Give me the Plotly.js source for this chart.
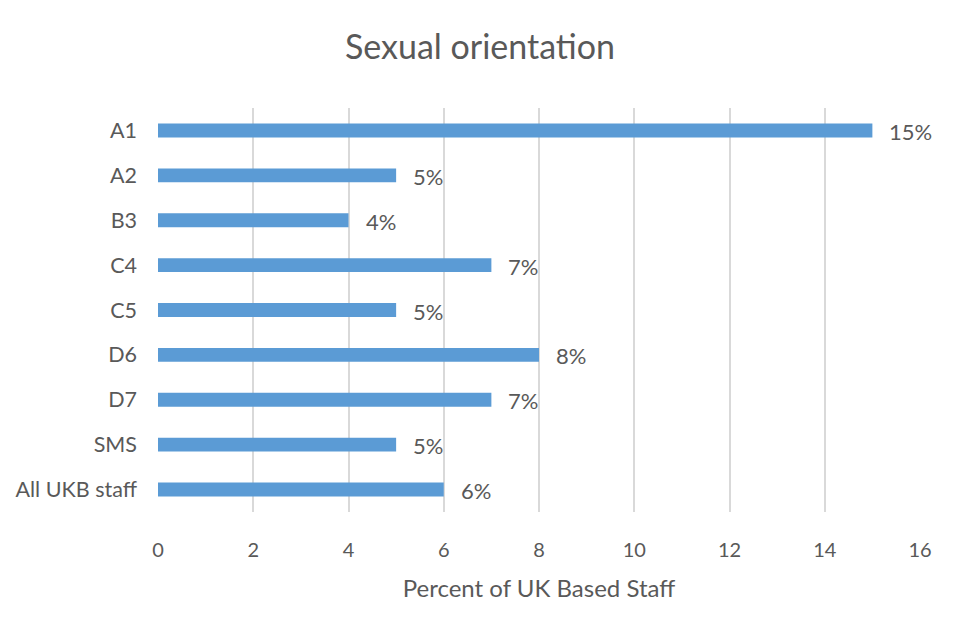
<!DOCTYPE html>
<html>
<head>
<meta charset="utf-8">
<script src="https://cdn.plot.ly/plotly-3.0.1.min.js"></script>
<style>html,body{margin:0;padding:0;background:#fff;}#chart{width:960px;height:640px;}</style>
</head>
<body>
<div id="chart"></div>
<script>
const categories = ["A1", "A2", "B3", "C4", "C5", "D6", "D7", "SMS", "All UKB staff"];
const values = [15, 5, 4, 7, 5, 8, 7, 5, 6];
const xTicks = [0, 2, 4, 6, 8, 10, 12, 14, 16];

const font = "Lato, 'Open Sans', sans-serif";
const grey = "#595959";

const trace = {
  type: "bar",
  orientation: "h",
  y: categories,
  x: values,
  width: 0.31,
  marker: {color: "#5B9BD5"},
  hoverinfo: "none"
};

const annotations = categories.map((c, i) => ({
  x: values[i], y: c, xref: "x", yref: "y",
  text: values[i] + "%", showarrow: false,
  xanchor: "left", yanchor: "middle", xshift: 15, yshift: -1,
  font: {family: font, size: 22, color: grey}
}));

const layout = {
  width: 960, height: 640,
  margin: {l: 158, r: 40, t: 108, b: 128},
  paper_bgcolor: "#fff", plot_bgcolor: "#fff",
  showlegend: false,
  title: {text: "Sexual orientation", x: 0.5, xanchor: "center", y: 0.926, yanchor: "middle",
          font: {family: font, size: 34, color: grey}},
  xaxis: {
    range: [0, 16], tickvals: xTicks, ticktext: xTicks.map(String),
    showgrid: true, gridcolor: "#d9d9d9", gridwidth: 2,
    zeroline: false, showline: false, ticks: "",
    ticklabelstandoff: 24,
    tickfont: {family: font, size: 20, color: grey},
    title: {text: "Percent of UK Based Staff", standoff: 20, font: {family: font, size: 24, color: grey}},
    fixedrange: true
  },
  yaxis: {
    autorange: "reversed", type: "category",
    showgrid: false, zeroline: false, showline: false, ticks: "",
    ticklabelstandoff: 20,
    tickfont: {family: font, size: 21.5, color: grey},
    fixedrange: true
  },
  annotations: annotations
};

Plotly.newPlot("chart", [trace], layout, {displayModeBar: false, staticPlot: true});
</script>
</body>
</html>
